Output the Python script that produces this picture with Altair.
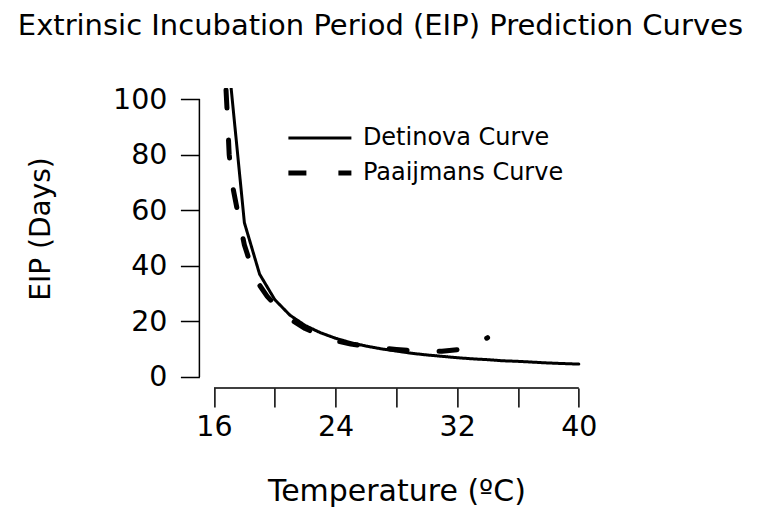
import altair as alt
import pandas as pd

# Detinova curve
det_temp = [17, 18, 19, 20, 21, 22, 23, 24, 25, 26, 27, 28, 29, 30, 31, 32,
            33, 34, 35, 36, 37, 38, 39, 40]
det_eip = [111.0, 55.5, 37.0, 27.8, 22.2, 18.5, 15.9, 13.9, 12.3, 11.1, 10.1,
           9.3, 8.5, 7.9, 7.4, 6.9, 6.5, 6.2, 5.8, 5.6, 5.3, 5.0, 4.8, 4.6]

# Paaijmans curve
paa_temp = [16.78, 16.9, 17.0, 17.25, 17.5, 17.75, 18.0, 18.5, 19.0, 19.5, 20,
            21, 22, 23, 24, 25, 26, 27, 28, 29, 30, 31, 32, 33, 34]
paa_eip = [104.5, 92, 80, 68, 61, 54, 47.5, 39, 33, 29, 26, 20.8, 17.4, 15.0,
           13.0, 11.8, 11.0, 10.4, 9.9, 9.5, 9.2, 9.2, 9.8, 11.4, 14.1]

series_names = ["Detinova Curve", "Paaijmans Curve"]
x_ticks = [16, 20, 24, 28, 32, 36, 40]
y_ticks = [0, 20, 40, 60, 80, 100]

FONT = "DejaVu Sans"

curves = pd.DataFrame(
    {"temp": det_temp + paa_temp,
     "eip": det_eip + paa_eip,
     "series": [series_names[0]] * len(det_temp) + [series_names[1]] * len(paa_temp)}
)

xscale = alt.Scale(domain=[15.04, 40.96], nice=False, zero=False)
yscale = alt.Scale(domain=[-4, 104], nice=False, zero=False)

legend_opts = dict(orient="none", legendX=86.5, legendY=38, title=None,
                   symbolType="M-1,0H5", symbolSize=441,
                   symbolStrokeColor="black", labelFont=FONT,
                   labelFontSize=24, labelColor="black", labelLimit=400,
                   labelOffset=51, rowPadding=10, padding=0)

lines = alt.Chart(curves).mark_line(clip=True, color="black", strokeCap="round",
                                    strokeJoin="round", strokeDashOffset=46.5).encode(
    x=alt.X("temp:Q", scale=xscale,
            axis=alt.Axis(values=x_ticks, domain=False, grid=False,
                          tickSize=19, tickWidth=1.5, tickColor="black",
                          labelExpr="datum.value % 8 == 0 ? datum.label : ''",
                          labelFont=FONT, labelFontSize=28.5, labelColor="black",
                          labelPadding=6, labelOverlap=False, labelFlush=False,
                          title="Temperature (ºC)", titleFont=FONT,
                          titleFontSize=30, titleFontWeight="normal",
                          titleColor="black", titleBaseline="alphabetic",
                          titleY=113)),
    y=alt.Y("eip:Q", scale=yscale,
            axis=alt.Axis(values=y_ticks, domain=False, grid=False,
                          tickSize=19, tickWidth=1.5, tickColor="black",
                          labelFont=FONT, labelFontSize=28.5, labelColor="black",
                          labelPadding=13.5, labelOverlap=False, labelFlush=False,
                          title="EIP (Days)", titleFont=FONT, titleFontSize=28,
                          titleFontWeight="normal", titleColor="black",
                          titleAngle=270, titleBaseline="alphabetic",
                          titleAlign="center", titleX=-149.4, titleY=140.5)),
    strokeDash=alt.StrokeDash(
        "series:N",
        scale=alt.Scale(domain=series_names, range=[[1, 0], [18, 32]]),
        legend=alt.Legend(**legend_opts),
    ),
    strokeWidth=alt.StrokeWidth(
        "series:N",
        scale=alt.Scale(domain=series_names, range=[3, 5]),
        legend=alt.Legend(**legend_opts),
    ),
    order=alt.Order("temp:Q"),
)

axis_x = pd.DataFrame({"x0": [x_ticks[0]], "x1": [x_ticks[-1]]})
axis_y = pd.DataFrame({"y0": [y_ticks[0]], "y1": [y_ticks[-1]]})

xline = alt.Chart(axis_x).mark_rule(color="black", strokeWidth=1.5).encode(
    x=alt.X("x0:Q", scale=xscale), x2="x1:Q", y=alt.value(300))
yline = alt.Chart(axis_y).mark_rule(color="black", strokeWidth=1.5).encode(
    y=alt.Y("y0:Q", scale=yscale), y2="y1:Q", x=alt.value(0))

chart = alt.layer(lines, xline, yline).properties(
    width=394, height=300,
    title=alt.TitleParams("Extrinsic Incubation Period (EIP) Prediction Curves",
                          font=FONT, fontSize=29, fontWeight="normal",
                          color="black", anchor="middle", dx=-16, offset=44),
    autosize=alt.AutoSizeParams(type="none"),
    padding={"left": 191.4, "top": 80, "right": 160, "bottom": 121},
).configure_view(stroke=None)

chart.save("out.html", embed_options={"renderer": "svg", "actions": False})
